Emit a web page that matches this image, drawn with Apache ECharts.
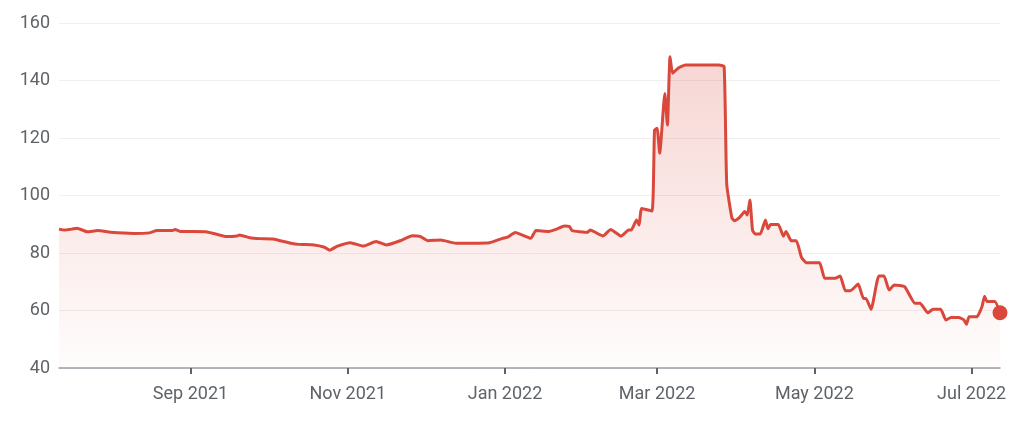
<!DOCTYPE html>
<html>
<head>
<meta charset="utf-8">
<script src="https://cdn.jsdelivr.net/npm/echarts@6/dist/echarts.min.js"></script>
<style>
html,body{margin:0;padding:0;background:#fff;}
#chart{width:1024px;height:421px;}
</style>
</head>
<body>
<div id="chart"></div>
<script>
const dates = [
'2021-07-12','2021-07-14','2021-07-17','2021-07-19','2021-07-23','2021-07-27','2021-08-01','2021-08-10','2021-08-16','2021-08-19',
'2021-08-25','2021-08-26','2021-08-28','2021-09-07','2021-09-10','2021-09-15','2021-09-19','2021-09-20','2021-09-24','2021-09-28',
'2021-10-03','2021-10-10','2021-10-13','2021-10-19','2021-10-23','2021-10-25','2021-10-28','2021-11-02','2021-11-07','2021-11-12',
'2021-11-16','2021-11-22','2021-11-26','2021-11-29','2021-12-02','2021-12-07','2021-12-13','2021-12-26','2021-12-31','2022-01-02',
'2022-01-05','2022-01-07','2022-01-11','2022-01-13','2022-01-18','2022-01-21','2022-01-24','2022-01-26','2022-01-27','2022-02-02',
'2022-02-03','2022-02-08','2022-02-11','2022-02-15','2022-02-18','2022-02-19','2022-02-21','2022-02-22','2022-02-23','2022-02-27',
'2022-02-28','2022-03-01','2022-03-02','2022-03-04','2022-03-05','2022-03-06','2022-03-07','2022-03-09','2022-03-12','2022-03-25',
'2022-03-27','2022-03-28','2022-03-30','2022-03-31','2022-04-02','2022-04-04','2022-04-05','2022-04-06','2022-04-07','2022-04-08',
'2022-04-10','2022-04-12','2022-04-13','2022-04-14','2022-04-17','2022-04-19','2022-04-20','2022-04-22','2022-04-24','2022-04-26',
'2022-04-28','2022-05-03','2022-05-05','2022-05-09','2022-05-11','2022-05-13','2022-05-15','2022-05-18','2022-05-20','2022-05-21',
'2022-05-23','2022-05-26','2022-05-28','2022-05-30','2022-06-01','2022-06-05','2022-06-09','2022-06-11','2022-06-14','2022-06-16',
'2022-06-19','2022-06-21','2022-06-23','2022-06-26','2022-06-28','2022-06-29','2022-06-30','2022-07-03','2022-07-05','2022-07-06',
'2022-07-07','2022-07-10','2022-07-12'
];
const prices = [
88.3,88.0,88.3,88.6,87.4,87.8,87.2,86.8,87.0,87.8,
87.8,88.2,87.5,87.4,86.8,85.7,85.9,86.3,85.3,85.0,
84.9,83.4,83.0,82.8,82.0,81.0,82.4,83.6,82.4,84.0,
82.8,84.5,86.0,85.8,84.3,84.5,83.4,83.6,85.1,85.5,
87.1,86.5,85.1,87.8,87.5,88.3,89.4,89.2,87.8,87.2,
88.0,85.9,88.2,85.9,88.0,88.0,91.5,89.7,95.5,94.6,
122.8,123.4,114.7,135.5,124.5,148.3,142.5,144.2,145.4,145.4,
144.8,104.0,92.2,91.2,92.4,94.4,93.2,98.4,88.0,86.6,
86.6,91.5,88.4,89.9,89.9,85.8,87.5,84.3,84.3,78.5,
76.6,76.6,71.2,71.2,72.0,66.9,66.9,69.2,64.2,64.2,
60.4,72.0,72.0,67.1,68.9,68.3,62.5,62.5,59.2,60.4,
60.4,56.7,57.6,57.6,56.7,55.2,57.8,57.8,61.3,65.0,
63.1,63.1,59.2
];
const tickDates = ['2021-09-01','2021-11-01','2022-01-01','2022-03-01','2022-05-01','2022-07-01'];
const yTicks = [40,60,80,100,120,140,160];

const MONTHS = ['Jan','Feb','Mar','Apr','May','Jun','Jul','Aug','Sep','Oct','Nov','Dec'];
const ts = s => { const p = s.split('-'); return Date.UTC(+p[0], +p[1]-1, +p[2]); };
const seriesData = dates.map((d,i) => [ts(d), prices[i]]);
const lastPoint = seriesData[seriesData.length-1];
const RED = '#d9483b';

const chart = echarts.init(document.getElementById('chart'), null, {renderer:'canvas'});
chart.setOption({
  animation: false,
  backgroundColor: '#ffffff',
  textStyle: {fontFamily: 'Roboto'},
  grid: {left: 59, right: 24, top: 23, bottom: 53, containLabel: false},
  xAxis: {
    type: 'value',
    min: ts(dates[0]),
    max: ts(dates[dates.length-1]),
    axisLine: {show: true, lineStyle: {color: '#9aa0a6', width: 1.5}},
    axisTick: {show: true, length: 6, lineStyle: {color: '#5f6368', width: 2}, customValues: tickDates.map(ts)},
    axisLabel: {
      color: '#5f6368', fontSize: 18, margin: 17, fontFamily: 'Roboto',
      customValues: tickDates.map(ts),
      formatter: v => { const d = new Date(v); return MONTHS[d.getUTCMonth()] + ' ' + d.getUTCFullYear(); }
    },
    splitLine: {show: false}
  },
  yAxis: {
    type: 'value',
    min: yTicks[0], max: yTicks[yTicks.length-1], interval: 20,
    axisLine: {show: false},
    axisTick: {show: false},
    axisLabel: {color: '#5f6368', fontSize: 18, margin: 9, fontFamily: 'Roboto'},
    splitLine: {show: true, lineStyle: {color: '#efefef', width: 1}}
  },
  series: [
    {
      type: 'line',
      data: seriesData,
      showSymbol: false,
      smooth: 0.15,
      lineStyle: {color: RED, width: 3},
      itemStyle: {color: RED},
      areaStyle: {
        color: new echarts.graphic.LinearGradient(0, 0, 0, 1, [
          {offset: 0, color: 'rgba(217,72,59,0.32)'},
          {offset: 1, color: 'rgba(217,72,59,0.02)'}
        ])
      },
      z: 2
    },
    {
      type: 'scatter',
      data: [lastPoint],
      symbolSize: 15,
      itemStyle: {color: RED, opacity: 1},
      clip: false,
      z: 3
    }
  ]
});
</script>
</body>
</html>
